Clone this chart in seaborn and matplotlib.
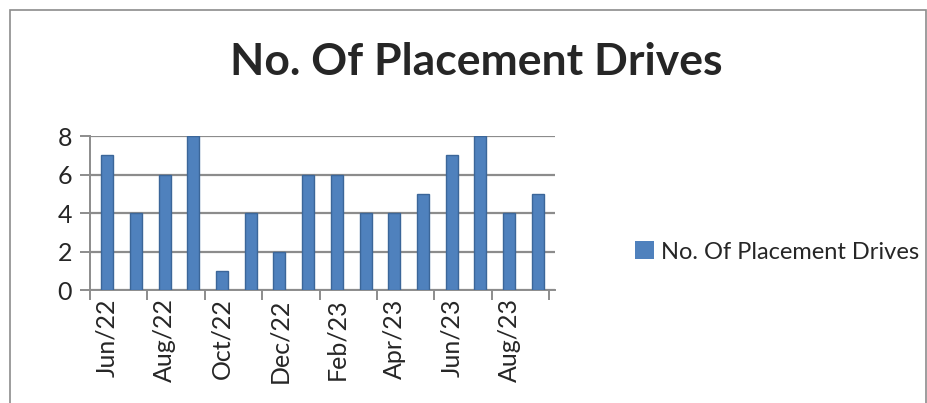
import pandas as pd
import seaborn as sns
import matplotlib.pyplot as plt
from matplotlib.patches import Rectangle, Patch

# data
months = ["Jun/22", "Jul/22", "Aug/22", "Sep/22", "Oct/22", "Nov/22", "Dec/22", "Jan/23",
          "Feb/23", "Mar/23", "Apr/23", "May/23", "Jun/23", "Jul/23", "Aug/23", "Sep/23"]
drives = [7, 4, 6, 8, 1, 4, 2, 6, 6, 4, 4, 5, 7, 8, 4, 5]
series_name = "No. Of Placement Drives"

df = pd.DataFrame({"Month": months, "Drives": drives})

sns.set_style("white")
plt.rcParams["font.family"] = ["Lato", "DejaVu Sans"]

fig = plt.figure(figsize=(9.28, 4.03), dpi=100)
ax = fig.add_axes([90 / 928, 113 / 403, 465 / 928, 154 / 403])

bar_color = "#4F81BD"
sns.barplot(data=df, x="Month", y="Drives", color=bar_color, width=0.42,
            edgecolor="#3B6699", linewidth=1.0, saturation=1, ax=ax, zorder=3)

ax.set_ylim(0, 8)
ax.set_xlim(-0.6, len(months) - 0.4)
ax.set_yticks([0, 2, 4, 6, 8])
ax.yaxis.grid(True, color="#8C8C8C", linewidth=1.6, zorder=0)
ax.set_xlabel("")
ax.set_ylabel("")

# labels on every second month, tick marks between pairs
ax.set_xticks(range(0, len(months), 2))
ax.set_xticklabels(months[::2], rotation=90, fontsize=18)
ax.set_xticks([i - 0.6 for i in range(0, len(months) + 1, 2)], minor=True)
ax.tick_params(axis="x", which="major", length=0, pad=6)
ax.tick_params(axis="x", which="minor", length=7, color="#8C8C8C", width=1.4)
ax.tick_params(axis="y", length=7, color="#8C8C8C", width=1.4, labelsize=18, pad=6)
ax.tick_params(axis="both", direction="out")
ax.xaxis.set_ticks_position("bottom")
ax.yaxis.set_ticks_position("left")

for side in ["top", "right"]:
    ax.spines[side].set_visible(False)
for side in ["left", "bottom"]:
    ax.spines[side].set_color("#8C8C8C")
    ax.spines[side].set_linewidth(1.4)

fig.text(476 / 928, 1 - 62 / 403, series_name, ha="center", va="center",
         fontsize=32, fontweight="bold")

handle = Patch(facecolor=bar_color, edgecolor="none")
fig.legend([handle], [series_name], loc="center left",
           bbox_to_anchor=(614 / 928, 1 - 252 / 403), frameon=False,
           fontsize=17, handlelength=0.8, handleheight=0.8, handletextpad=0.3)

# outer chart border
fig.patches.append(Rectangle((10 / 928, -0.05), 916 / 928, 1 - 10 / 403 + 0.05,
                             transform=fig.transFigure, fill=False,
                             edgecolor="#8C8C8C", linewidth=1.2))

fig.savefig("out.png", dpi=100)
